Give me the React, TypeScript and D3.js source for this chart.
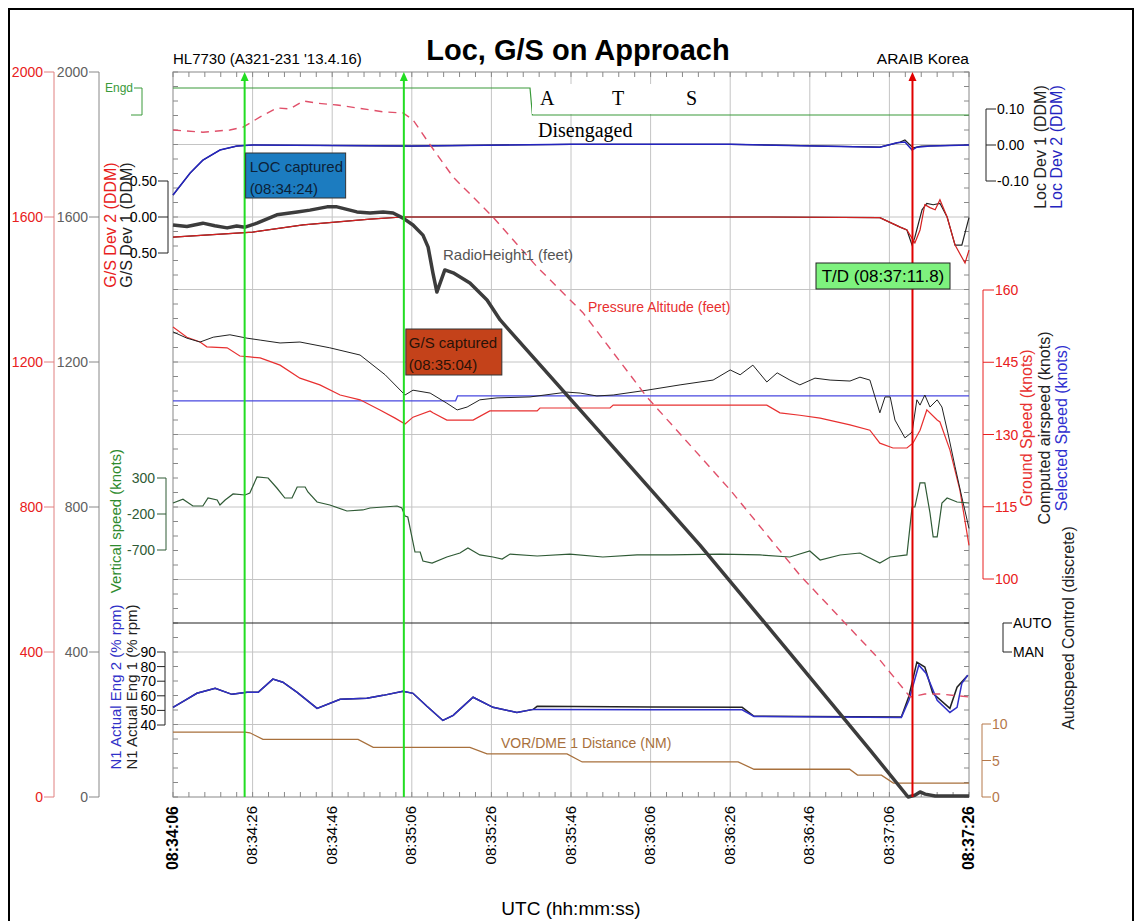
import React from 'react';
import * as d3 from 'd3';

// time axis: seconds after 08:34:06
const timeLabels = ['08:34:06', '08:34:26', '08:34:46', '08:35:06', '08:35:26', '08:35:46', '08:36:06', '08:36:26', '08:36:46', '08:37:06', '08:37:26'];
const altTicks = [0, 400, 800, 1200, 1600, 2000];
const gsTicks = [0.5, 0, -0.5];
const locTicks = [0.1, 0, -0.1];
const spdTicks = [160, 145, 130, 115, 100];
const vsTicks = [300, -200, -700];
const n1Ticks = [90, 80, 70, 60, 50, 40];
const dmeTicks = [10, 5, 0];

// RadioHeight1 (feet)
const radioT = [0, 3.5, 7.5, 10.5, 13.6, 16, 18.1, 21.1, 26.1, 31.2, 34.4, 38.7, 41.2, 46.2, 49.5, 52.8, 55.3, 57.8, 60.3, 62.8, 64.1, 65.3, 66.3, 68.3, 70.4, 74.6, 78.9, 82.2, 109, 132.4, 157.5, 175.1, 184.7, 186.4, 187.7, 189, 191.5, 200];
const radioFt = [1578, 1574, 1583, 1576, 1570, 1575, 1572, 1583, 1606, 1614, 1619, 1628, 1628, 1614, 1611, 1614, 1611, 1597, 1578, 1550, 1517, 1446, 1393, 1454, 1446, 1418, 1371, 1316, 985, 695, 364, 130, 0, 5, 14, 8, 3, 3];

// Pressure Altitude (feet)
const paltT = [0, 7.5, 14.3, 17.6, 21.9, 26.1, 29.4, 32.7, 36.2, 41.2, 46.2, 52.8, 57.8, 60.3, 64.6, 70.4, 80.4, 91.5, 103, 119.1, 128.1, 140, 157.5, 177.6, 185.2, 188.9, 192.7, 200];
const paltFt = [1840, 1834, 1840, 1848, 1876, 1901, 1898, 1920, 1914, 1909, 1901, 1890, 1887, 1868, 1799, 1710, 1600, 1462, 1336, 1103, 993, 847, 612, 378, 276, 284, 284, 276];

// Loc deviation (DDM)
const loc2T = [0, 4.3, 7.5, 11.8, 16, 20, 60, 100, 140, 177.6, 181.9, 183.9, 185.7, 186.9, 190.2, 200];
const loc2 = [-0.139, -0.078, -0.042, -0.014, -0.003, 0, -0.003, 0.002, 0.002, -0.006, 0.006, 0.008, -0.014, -0.006, -0.003, 0];
const loc1T = [0, 4.3, 7.5, 11.8, 16, 20, 60, 100, 140, 177.6, 182.7, 183.9, 185.2, 186, 188, 200];
const loc1 = [-0.139, -0.078, -0.042, -0.014, -0.003, 0, -0.003, 0.002, 0.002, -0.006, 0.008, 0.014, 0, -0.008, -0.003, 0];

// G/S deviation (DDM)
const gs2T = [0, 20, 32.7, 49.5, 57.8, 100, 150, 177.6, 182.7, 184.4, 186.4, 187.7, 188.9, 190.2, 191.5, 192.7, 194.5, 196.5, 199, 200];
const gs2 = [-0.28, -0.21, -0.11, -0.03, 0, 0, 0, -0.01, -0.14, -0.18, -0.36, -0.18, 0.17, 0.13, 0.1, 0.24, 0, -0.39, -0.64, -0.46];
const gs1T = [0, 20, 32.7, 49.5, 57.8, 100, 150, 177.6, 182.7, 184.4, 185.7, 186.4, 188.2, 189.4, 191, 192.7, 194.5, 196.5, 198.2, 200];
const gs1 = [-0.28, -0.21, -0.11, -0.03, 0, 0, 0, -0.01, -0.14, -0.18, -0.39, -0.28, 0.1, 0.19, 0.17, 0.19, 0, -0.39, -0.39, -0.01];

// Ground speed (knots)
const gspdT = [0, 3.5, 6.8, 8.5, 13.6, 16.8, 19.3, 21.9, 26.9, 31.9, 36.9, 42, 47, 52, 55.8, 58.3, 60.3, 64.6, 65.3, 68.8, 75.4, 79.6, 91.5, 92.2, 109.8, 110.6, 149.2, 152.5, 157.5, 162.6, 170.1, 175.1, 177.6, 180.9, 184.4, 185.9, 187.7, 189.4, 192, 192.7, 195.2, 197.7, 200];
const gspd = [152.3, 150.2, 149.2, 148.2, 148, 146.3, 146.1, 145.9, 144.4, 141.7, 140.3, 138.2, 137.2, 135.1, 133.4, 132.2, 133.6, 134.9, 134.5, 133, 133, 134.9, 134.9, 135.5, 135.5, 136.1, 136.1, 134.5, 134, 133.4, 132, 130.9, 128.2, 127.2, 127.2, 128.2, 130.9, 135.1, 133, 132.6, 126.8, 118.5, 107];

// Computed airspeed (knots)
const casT = [0, 3.5, 6.8, 10.1, 14.3, 18.6, 21.9, 26.9, 31.9, 39.4, 47, 53.3, 58.3, 60.3, 64.6, 68.8, 71.4, 73.9, 77.1, 81.4, 89.7, 99, 102.3, 106.5, 110.6, 119.1, 127.4, 135.7, 140, 142.5, 145.7, 149.2, 151.8, 155, 157.5, 161.3, 165.1, 170.1, 172.6, 175.1, 177.6, 178.9, 180.2, 181.4, 183.9, 185.7, 186.9, 187.7, 188.9, 190.2, 192, 193.2, 194.7, 196.5, 198.2, 200];
const cas = [151.3, 150, 149.2, 150.2, 150.7, 150, 149.6, 149, 149.2, 148, 146.5, 142.4, 138.2, 139.2, 138.6, 136.5, 135.1, 135.7, 137.2, 137.6, 137.8, 138.8, 138.6, 138, 138.2, 139.2, 140.3, 141.3, 143.4, 142.4, 144.4, 140.9, 142.8, 141.3, 140.3, 141.7, 141.3, 141.1, 141.9, 141.3, 134.5, 137.8, 137.8, 133, 129.3, 130.5, 137.2, 136.1, 138.2, 135.7, 137.2, 135.7, 130.3, 123.3, 117, 110.5];

// Selected speed (knots)
const selT = [0, 71, 71.5, 200];
const sel = [137, 137, 138, 138];

// Vertical speed
const vsT = [0, 2.5, 5, 7.5, 8.8, 11.1, 11.8, 13.1, 15.1, 18.1, 19.3, 21.1, 23.9, 26.1, 28.1, 29.9, 31.2, 33.2, 33.9, 36.2, 39.4, 43.7, 47.7, 49.5, 56.3, 57.5, 58.3, 59, 60.8, 62.1, 62.8, 65.1, 68.8, 72.1, 74.1, 77.1, 80.4, 82.7, 84.7, 91.5, 99.7, 108, 116.6, 124.9, 137.4, 147.5, 155, 160, 162.6, 167.6, 172.6, 177.6, 180.2, 184.4, 185.7, 186.4, 187.7, 188.9, 190.2, 191, 192, 193.2, 194.5, 197, 200];
const vs = [-47, 6, -89, -89, 22, -6, -75, -6, 78, 64, 92, 314, 300, 161, 22, 22, 175, 175, 106, -33, -75, -158, -144, -117, -89, -117, -228, -242, -728, -728, -853, -881, -797, -742, -672, -769, -797, -825, -756, -783, -756, -797, -769, -769, -756, -769, -797, -714, -839, -769, -742, -881, -797, -769, -103, -103, 231, 231, -186, -519, -519, -47, 22, -33, -47];

// N1 actual (% rpm)
const n1T = [0, 3, 6, 10.6, 14.8, 18.6, 21.4, 25.1, 27.6, 31.2, 36.2, 42, 48.7, 52.8, 57.8, 60.3, 63.8, 67.8, 70.4, 75.4, 80.4, 86.4, 90.5];
const n1Base = [52.1, 56.9, 61.7, 65.2, 61, 62.4, 62.4, 71.4, 69.3, 62.4, 51.4, 57.6, 58.3, 60.3, 63.1, 61.7, 52.8, 43.1, 46.6, 59, 52.1, 48.6, 50.7];
const n1e1TailT = [91.5, 120, 143, 146, 183, 184.9, 186.9, 188.9, 190.9, 195.2, 197, 199.7];
const n1e1Tail = [52.8, 52.4, 52.1, 46, 45.5, 59.7, 83.1, 79.7, 61.7, 51.4, 65.9, 74.1];
const n1e2TailT = [91.5, 120, 143, 146, 183, 184.9, 187.4, 189.2, 192, 195.2, 197, 198.2, 199.7];
const n1e2Tail = [50.7, 50.5, 50.4, 45.9, 45.2, 56.9, 81, 75.5, 56.9, 48.6, 52.1, 68.6, 74.1];

// VOR/DME 1 distance (NM)
const dmeT = [0, 18.1, 19.3, 22.6, 46.5, 50.3, 74.6, 78.9, 99, 102.8, 142, 146, 170, 172, 178, 181, 200];
const dme = [8.9, 8.9, 8.8, 7.9, 7.9, 6.8, 6.8, 5.9, 5.9, 4.8, 4.8, 3.8, 3.8, 3.0, 3.0, 1.9, 1.9];

// ATS and autospeed discretes
const atsT = [0, 89.7, 90.3, 200];
const ats = ['Engd', 'Engd', 'Disengaged', 'Disengaged'];
const autoT = [0, 200];
const autoSpd = ['AUTO', 'AUTO'];

// event markers
const events = [
  { t: 18, color: '#22dd22' },
  { t: 58, color: '#22dd22' },
  { t: 185.8, color: '#e00000' },
];

const FONT = '"Liberation Sans", Arial, sans-serif';

const App = () => {
  const L = 173, R = 969, T = 72, B = 797;
  const x = d3.scaleLinear().domain([0, 200]).range([L, R]);
  const yAlt = d3.scaleLinear().domain([0, 2000]).range([B, T]);
  const yGS = d3.scaleLinear().domain([-0.5, 0.5]).range([253, 181]);
  const yLoc = d3.scaleLinear().domain([-0.1, 0.1]).range([181, 109]);
  const ySpd = d3.scaleLinear().domain([100, 160]).range([579, 290]);
  const yVS = d3.scaleLinear().domain([-700, 300]).range([550, 478]);
  const yN1 = d3.scaleLinear().domain([40, 90]).range([725, 652]);
  const yDME = d3.scaleLinear().domain([0, 10]).range([797, 724]);
  const yATS = d3.scalePoint().domain(['Engd', 'Disengaged']).range([88, 115]);
  const yAuto = d3.scalePoint().domain(['AUTO', 'MAN']).range([623, 652]);

  const path = (ts: number[], vs: any[], ys: (v: any) => number) =>
    d3.line<any>().x((_, i) => x(ts[i])).y((v) => ys(v))(vs) || '';

  const n1e1 = path(n1T.concat(n1e1TailT), n1Base.concat(n1e1Tail), yN1);
  const n1e2 = path(n1T.concat(n1e2TailT), n1Base.concat(n1e2Tail), yN1);

  const gridY = d3.range(200, 2000, 200);
  const gridX = d3.range(20, 200, 20);
  const minorX = d3.range(0, 201, 4);
  const minorY = d3.range(0, 2001, 40);

  const rot = (cx: number, cy: number, text: string, color: string, size = 16) => (
    <text key={text} x={cx} y={cy} transform={`rotate(-90,${cx},${cy})`} textAnchor="middle"
      dominantBaseline="central" fill={color} fontSize={size}>{text}</text>
  );

  return (
    <svg width={1136} height={921} style={{ position: 'absolute', left: 0, top: 0, background: '#fff' }}
      fontFamily={FONT}>
      <rect x={9} y={9} width={1124} height={915} fill="none" stroke="#000" strokeWidth={2} />

      {/* grid */}
      {gridY.map((v) => <line key={'gy' + v} x1={L} x2={R} y1={yAlt(v)} y2={yAlt(v)} stroke="#c4c4c4" />)}
      {gridX.map((v) => <line key={'gx' + v} x1={x(v)} x2={x(v)} y1={T} y2={B} stroke="#c4c4c4" />)}

      {/* frame + minor ticks */}
      <rect x={L} y={T} width={R - L} height={B - T} fill="none" stroke="#888" />
      {minorX.map((v) => (
        <g key={'mx' + v} stroke="#888">
          <line x1={x(v)} x2={x(v)} y1={T} y2={T + 5} />
          <line x1={x(v)} x2={x(v)} y1={B} y2={B - 5} />
        </g>
      ))}
      {minorY.map((v) => (
        <g key={'my' + v} stroke="#888">
          <line x1={L} x2={L + 5} y1={yAlt(v)} y2={yAlt(v)} />
          <line x1={R} x2={R - 5} y1={yAlt(v)} y2={yAlt(v)} />
        </g>
      ))}

      {/* series */}
      <path d={path(atsT, ats, yATS)} fill="none" stroke="#3a9a3a" strokeWidth={1.2} />
      <path d={path(autoT, autoSpd, yAuto)} fill="none" stroke="#222" strokeWidth={1.2} />
      <path d={path(dmeT, dme, yDME)} fill="none" stroke="#a8703c" strokeWidth={1.3} />
      <path d={path(selT, sel, ySpd)} fill="none" stroke="#4848e0" strokeWidth={1.3} />
      <path d={path(gspdT, gspd, ySpd)} fill="none" stroke="#e83030" strokeWidth={1.2} />
      <path d={path(casT, cas, ySpd)} fill="none" stroke="#222" strokeWidth={1} />
      <path d={path(vsT, vs, yVS)} fill="none" stroke="#2f5a35" strokeWidth={1.2} />
      <path d={n1e1} fill="none" stroke="#222" strokeWidth={1.5} />
      <path d={n1e2} fill="none" stroke="#3030c8" strokeWidth={1.5} />
      <path d={path(gs1T, gs1, yGS)} fill="none" stroke="#222" strokeWidth={1.2} />
      <path d={path(gs2T, gs2, yGS)} fill="none" stroke="#d42020" strokeWidth={1.2} />
      <path d={path(loc1T, loc1, yLoc)} fill="none" stroke="#222" strokeWidth={1.2} />
      <path d={path(loc2T, loc2, yLoc)} fill="none" stroke="#2424c0" strokeWidth={1.5} />
      <path d={path(paltT, paltFt, yAlt)} fill="none" stroke="#e0506a" strokeWidth={1.4} strokeDasharray="8,6" />
      <path d={path(radioT, radioFt, yAlt)} fill="none" stroke="#3c3c3c" strokeWidth={3.5} strokeLinejoin="round" />

      {/* ATS box */}
      <rect x={532} y={84} width={176} height={30} fill="#fff" />
      <g fontFamily='"Liberation Serif", "DejaVu Serif", serif' fontSize={20} fill="#000">
        <text x={540} y={105}>A</text>
        <text x={612} y={105}>T</text>
        <text x={686} y={105}>S</text>
        <text x={538} y={137}>Disengaged</text>
      </g>

      {/* event markers */}
      {events.map((e) => (
        <g key={'ev' + e.t}>
          <line x1={x(e.t)} x2={x(e.t)} y1={B} y2={T + 6} stroke={e.color} strokeWidth={2} />
          <path d={`M${x(e.t)},${T} L${x(e.t) - 4},${T + 9} L${x(e.t) + 4},${T + 9} Z`} fill={e.color} />
        </g>
      ))}

      {/* annotation boxes */}
      <rect x={x(18) + 1} y={153} width={100} height={45} fill="#1c7cc0" stroke="#333" />
      <text x={x(18) + 5} y={172} fontSize={15} fill="#0c2238">LOC captured</text>
      <text x={x(18) + 5} y={194} fontSize={15} fill="#0c2238">(08:34:24)</text>
      <rect x={x(58) + 2} y={329} width={96} height={46} fill="#c4421a" stroke="#333" />
      <text x={x(58) + 5} y={348} fontSize={15} fill="#2a1208">G/S captured</text>
      <text x={x(58) + 5} y={370} fontSize={15} fill="#2a1208">(08:35:04)</text>
      <rect x={816} y={263} width={134} height={26} fill="#7ef27e" stroke="#222" />
      <text x={883} y={282} fontSize={17} textAnchor="middle" fill="#000">T/D (08:37:11.8)</text>

      {/* inline labels */}
      <text x={443} y={260} fontSize={15} fill="#555">RadioHeight1 (feet)</text>
      <text x={588} y={312} fontSize={14} fill="#e83030">Pressure Altitude (feet)</text>
      <text x={501} y={748} fontSize={14} fill="#a8703c">VOR/DME 1 Distance (NM)</text>

      {/* titles */}
      <text x={578} y={60} fontSize={29} fontWeight="bold" textAnchor="middle">Loc, G/S on Approach</text>
      <text x={L} y={64} fontSize={15}>HL7730 (A321-231 '13.4.16)</text>
      <text x={R} y={64} fontSize={15.5} textAnchor="end">ARAIB Korea</text>

      {/* left altitude axes */}
      <line x1={54} x2={54} y1={yAlt(0)} y2={yAlt(2000)} stroke="#e08080" />
      <line x1={99} x2={99} y1={yAlt(0)} y2={yAlt(2000)} stroke="#888" />
      {altTicks.map((v) => (
        <g key={'alt' + v} fontSize={14}>
          <line x1={44} x2={54} y1={yAlt(v)} y2={yAlt(v)} stroke="#e08080" />
          <text x={43} y={yAlt(v)} textAnchor="end" dominantBaseline="central" fill="#e82020">{v}</text>
          <line x1={89} x2={99} y1={yAlt(v)} y2={yAlt(v)} stroke="#888" />
          <text x={88} y={yAlt(v)} textAnchor="end" dominantBaseline="central" fill="#606060">{v}</text>
        </g>
      ))}

      {/* ATS discrete axis */}
      <path d={`M134,${yATS('Engd')} H142 V${yATS('Disengaged')} H131`} fill="none" stroke="#3a9a3a" />
      <text x={133} y={yATS('Engd')} fontSize={12} textAnchor="end" dominantBaseline="central" fill="#3a9a3a">Engd</text>

      {/* G/S dev axis */}
      <line x1={168} x2={168} y1={yGS(0.5)} y2={yGS(-0.5)} stroke="#222" />
      {gsTicks.map((v) => (
        <g key={'gs' + v}>
          <line x1={158} x2={168} y1={yGS(v)} y2={yGS(v)} stroke="#222" />
          <text x={157} y={yGS(v)} fontSize={14} textAnchor="end" dominantBaseline="central">{v.toFixed(2)}</text>
        </g>
      ))}
      {rot(110, 225, 'G/S Dev 2 (DDM)', '#e82020')}
      {rot(126, 225, 'G/S Dev 1 (DDM)', '#222')}

      {/* vertical speed axis */}
      <line x1={166} x2={166} y1={yVS(300)} y2={yVS(-700)} stroke="#2f5a35" />
      {vsTicks.map((v) => (
        <g key={'vs' + v}>
          <line x1={157} x2={166} y1={yVS(v)} y2={yVS(v)} stroke="#2f5a35" />
          <text x={155} y={yVS(v)} fontSize={14} textAnchor="end" dominantBaseline="central" fill="#2f5a35">{v}</text>
        </g>
      ))}
      {rot(115, 521, 'Vertical speed (knots)', '#2e8b2e', 15)}

      {/* N1 axis */}
      <line x1={165} x2={165} y1={yN1(90)} y2={yN1(40)} stroke="#222" />
      {n1Ticks.map((v) => (
        <g key={'n1' + v}>
          <line x1={157} x2={165} y1={yN1(v)} y2={yN1(v)} stroke="#222" />
          <text x={156} y={yN1(v)} fontSize={14} textAnchor="end" dominantBaseline="central">{v}</text>
        </g>
      ))}
      {rot(115, 687, 'N1 Actual Eng 2 (% rpm)', '#3030c8', 15)}
      {rot(131, 687, 'N1 Actual Eng 1 (% rpm)', '#222', 15)}

      {/* right: Loc dev axis */}
      <line x1={986} x2={986} y1={yLoc(0.1)} y2={yLoc(-0.1)} stroke="#222" />
      {locTicks.map((v) => (
        <g key={'loc' + v}>
          <line x1={986} x2={996} y1={yLoc(v)} y2={yLoc(v)} stroke="#222" />
          <text x={997} y={yLoc(v)} fontSize={14} dominantBaseline="central">{v.toFixed(2)}</text>
        </g>
      ))}
      {rot(1040, 147, 'Loc Dev 1 (DDM)', '#222')}
      {rot(1056, 147, 'Loc Dev 2 (DDM)', '#2424c0')}

      {/* right: speed axis */}
      <line x1={983} x2={983} y1={ySpd(160)} y2={ySpd(100)} stroke="#e82020" />
      {spdTicks.map((v) => (
        <g key={'spd' + v}>
          <line x1={983} x2={994} y1={ySpd(v)} y2={ySpd(v)} stroke="#e82020" />
          <text x={995} y={ySpd(v)} fontSize={14} dominantBaseline="central" fill="#e82020">{v}</text>
        </g>
      ))}
      {rot(1026, 428, 'Ground Speed (knots)', '#e83030')}
      {rot(1044, 428, 'Computed airspeed (knots)', '#222')}
      {rot(1061, 428, 'Selected Speed (knots)', '#3030d0')}

      {/* right: autospeed axis */}
      <path d={`M1012,${yAuto('AUTO')} H1003 V${yAuto('MAN')} H1012`} fill="none" stroke="#222" />
      {yAuto.domain().map((v) => (
        <text key={v} x={1013} y={yAuto(v)} fontSize={14} dominantBaseline="central">{v}</text>
      ))}
      {rot(1068, 628, 'Autospeed Control (discrete)', '#222')}

      {/* right: DME axis */}
      <line x1={982} x2={982} y1={yDME(10)} y2={yDME(0)} stroke="#b5784a" />
      {dmeTicks.map((v) => (
        <g key={'dme' + v}>
          <line x1={982} x2={991} y1={yDME(v)} y2={yDME(v)} stroke="#b5784a" />
          <text x={992} y={yDME(v)} fontSize={14} dominantBaseline="central" fill="#b5784a">{v}</text>
        </g>
      ))}

      {/* time axis labels */}
      {timeLabels.map((s, i) => {
        const tx = x(i * 20) - 1;
        const edge = i === 0 || i === timeLabels.length - 1;
        return (
          <text key={s} x={tx} y={806} transform={`rotate(-90,${tx},806)`} textAnchor="end"
            dominantBaseline="central" fontSize={edge ? 16 : 15} fontWeight={edge ? 'bold' : 'normal'}>{s}</text>
        );
      })}
      <text x={571} y={915} fontSize={19} textAnchor="middle">UTC (hh:mm:ss)</text>
    </svg>
  );
};

export default App;
